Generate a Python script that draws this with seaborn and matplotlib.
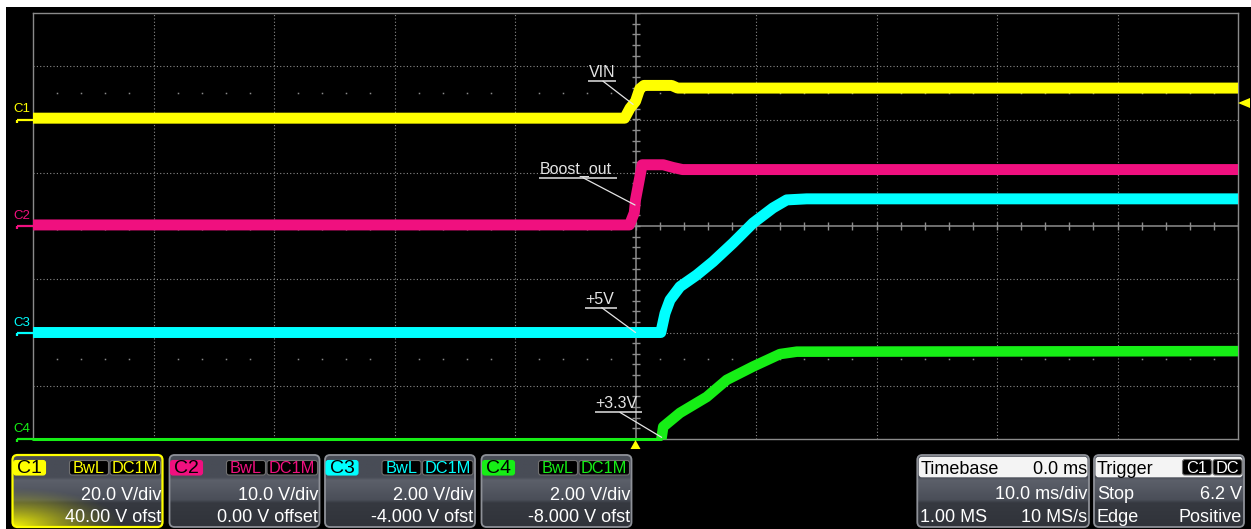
import numpy as np
import pandas as pd
import matplotlib
matplotlib.use("Agg")
import matplotlib.pyplot as plt
import seaborn as sns
from matplotlib.patches import FancyBboxPatch, Rectangle, Polygon
from matplotlib.collections import LineCollection
from matplotlib.transforms import blended_transform_factory

# ---------------- acquisition settings ----------------
channels = ["C1", "C2", "C3", "C4"]
colors = ["#FFFF00", "#F0107F", "#00FFFF", "#16EE16"]
volts_per_div = [20.0, 10.0, 2.0, 2.0]
offsets = [40.0, 0.0, -4.0, -8.0]
vdiv_labels = ["20.0 V/div", "10.0 V/div", "2.00 V/div", "2.00 V/div"]
offset_labels = ["40.00 V ofst", "0.00 V offset", "-4.000 V ofst", "-8.000 V ofst"]
ms_per_div = 10.0
trigger_time = 0.0
trigger_level = 6.2

# ---------------- captured waveforms (ms, V) ----------------
vin_t = [-50.0, -0.9, -0.45, 0.0, 0.35, 0.7, 3.0, 3.5, 50.0]
vin_v = [0.5, 0.5, 4.3, 6.8, 11.5, 12.8, 12.8, 11.8, 11.8]

boost_t = [-50.0, -0.5, -0.1, 0.0, 0.55, 2.3, 3.1, 3.9, 50.0]
boost_v = [0.2, 0.2, 2.5, 4.9, 11.5, 11.5, 11.0, 10.6, 10.6]

p5v_t = [-50.0, 2.1, 2.45, 2.86, 3.69, 5.08, 6.43, 8.09, 9.75, 11.41, 12.55, 14.2, 50.0]
p5v_v = [0.0, 0.0, 0.72, 1.22, 1.72, 2.16, 2.66, 3.36, 4.11, 4.68, 4.98, 5.02, 5.02]

p3v3_t = [-50.0, 2.15, 2.3, 3.69, 5.91, 7.57, 9.75, 11.99, 13.38, 50.0]
p3v3_v = [0.0, 0.0, 0.46, 0.98, 1.58, 2.22, 2.72, 3.19, 3.28, 3.3]

waves = [(vin_t, vin_v), (boost_t, boost_v), (p5v_t, p5v_v), (p3v3_t, p3v3_v)]

# ---------------- screen layout (pixels) ----------------
W, H = 1251, 529
GX0, GX1, GY0, GY1 = 33, 1238, 13, 439
PX_PER_DIV_X = (GX1 - GX0) / 10
PX_PER_DIV_Y = (GY1 - GY0) / 8

sns.set_theme(style="dark")
plt.rcParams["font.family"] = ["Liberation Sans", "DejaVu Sans"]

fig = plt.figure(figsize=(W / 100, H / 100), dpi=100, facecolor="black")
ax = fig.add_axes([GX0 / W, 1 - GY1 / H, (GX1 - GX0) / W, (GY1 - GY0) / H])
ax.set_facecolor("black")
ax.set_xlim(-5 * ms_per_div, 5 * ms_per_div)
ax.set_ylim(-4, 4)
ax.set_xticks([])
ax.set_yticks([])
ax.set_xlabel("")
ax.set_ylabel("")
for s in ax.spines.values():
    s.set_color("#8a8a8a")
    s.set_linewidth(1.0)
    s.set_visible(True)

def to_div(i, v):
    return (np.asarray(v, dtype=float) + offsets[i]) / volts_per_div[i]

# ---------------- graticule ----------------
grid_col = "#8a8a8a"
for k in range(-4, 5):
    if k != 0:
        ax.axvline(k * ms_per_div, color=grid_col, lw=0.8, ls=(0, (1, 2)), zorder=1)
for j in range(-3, 4):
    if j != 0:
        ax.axhline(j, color=grid_col, lw=0.8, ls=(0, (1, 2)), zorder=1)
dot_t = [t for t in np.arange(-48, 50, 2) if t % 10 != 0]
for yrow in (-2.5, 2.5):
    ax.plot(dot_t, [yrow] * len(dot_t), ls="none", marker="s", ms=1.1,
            mec="none", mfc=grid_col, zorder=1)
ax.axvline(0, color="#8e8e8e", lw=1.1, zorder=1)
ax.axhline(0, color="#8e8e8e", lw=1.1, zorder=1)
hx = 4 / PX_PER_DIV_X * ms_per_div
hy = 4 / PX_PER_DIV_Y
segs = [[(-hx, y), (hx, y)] for y in np.arange(-4, 4.01, 0.2)]
segs += [[(x, -hy), (x, hy)] for x in np.arange(-50, 50.1, 2.0)]
ax.add_collection(LineCollection(segs, colors="#8e8e8e", linewidths=1.0, zorder=1))

# ---------------- traces ----------------
frames = []
for i, (t, v) in enumerate(waves):
    frames.append(pd.DataFrame({"channel": channels[i], "t": t, "div": to_div(i, v)}))
df = pd.concat(frames, ignore_index=True)

for i, ch in enumerate(channels):
    d = df[df["channel"] == ch]
    if ch == "C4":
        idle = d[d["t"] <= 2.15]
        active = d[d["t"] >= 2.15]
        sns.lineplot(data=idle, x="t", y="div", color=colors[i], lw=2.2, ax=ax,
                     legend=False, zorder=3, clip_on=False, estimator=None)
        sns.lineplot(data=active, x="t", y="div", color=colors[i], lw=7.6, ax=ax,
                     legend=False, zorder=3, clip_on=False, estimator=None,
                     solid_joinstyle="round", solid_capstyle="butt")
    else:
        sns.lineplot(data=d, x="t", y="div", color=colors[i], lw=7.9, ax=ax,
                     legend=False, zorder=3, estimator=None,
                     solid_joinstyle="round", solid_capstyle="butt")
ax.set_xlabel("")
ax.set_ylabel("")

# ---------------- callouts ----------------
# text, channel, tip time (ms), underline (ms from, ms to, div), leader start (ms)
callouts = [
    ("VIN", 0, -0.2, (-3.94, -1.62, 2.72), -2.70),
    ("Boost_out", 1, -0.04, (-8.0, -1.54, 0.907), -4.36),
    ("+5V", 2, 0.0, (-4.19, -1.54, -1.534), -2.80),
    ("+3.3V", 3, 2.17, (-3.36, 0.51, -3.50), -1.29),
]
lab_col = "#e4e4e4"
for text, ci, t_tip, (u0, u1, uy), t_lead in callouts:
    tt, vv = waves[ci]
    y_tip = float(to_div(ci, np.interp(t_tip, tt, vv)))
    ax.plot([u0, u1], [uy, uy], color=lab_col, lw=1.1, zorder=5, solid_capstyle="butt")
    ax.plot([t_lead, t_tip], [uy, y_tip], color=lab_col, lw=0.9, zorder=5)
    ax.text(u0 + 0.05, uy + 4 / PX_PER_DIV_Y, text, color=lab_col, fontsize=11.5,
            ha="left", va="baseline", zorder=5)

# ---------------- channel ground markers and names ----------------
bt = blended_transform_factory(ax.transAxes, ax.transData)
fx = 1.0 / (GX1 - GX0)
for i, ch in enumerate(channels):
    g = offsets[i] / volts_per_div[i]
    ax.plot([-16 * fx, 0], [g, g], color=colors[i], lw=1.6, transform=bt,
            clip_on=False, zorder=4, solid_capstyle="butt")
    ax.plot([-16 * fx, -16 * fx], [g, g - 3 / PX_PER_DIV_Y], color=colors[i], lw=1.6,
            transform=bt, clip_on=False, zorder=4, solid_capstyle="butt")
    ax.text(-20 * fx, g + 4 / PX_PER_DIV_Y, ch, color=colors[i], fontsize=9.5,
            ha="left", va="bottom", transform=bt, clip_on=False)

# trigger markers
hx5 = 5 / PX_PER_DIV_X * ms_per_div
tri = Polygon([(trigger_time, -4 - 1 / PX_PER_DIV_Y),
               (trigger_time - hx5, -4 - 10 / PX_PER_DIV_Y),
               (trigger_time + hx5, -4 - 10 / PX_PER_DIV_Y)],
              closed=True, fc="#FFFF00", ec="none", clip_on=False, zorder=6)
ax.add_patch(tri)
ly = float(to_div(0, trigger_level))
tri2 = Polygon([(50.0, ly), (50.0 + 12 / PX_PER_DIV_X * ms_per_div, ly + 5 / PX_PER_DIV_Y),
                (50.0 + 12 / PX_PER_DIV_X * ms_per_div, ly - 5 / PX_PER_DIV_Y)],
               closed=True, fc="#FFFF00", ec="none", clip_on=False, zorder=6)
ax.add_patch(tri2)

# ---------------- status bar (pixel coordinates) ----------------
ui = fig.add_axes([0, 0, 1, 1])
ui.set_zorder(10)
ui.set_xlim(0, W)
ui.set_ylim(H, 0)
ui.axis("off")

ui.add_patch(Rectangle((0, 0), W, 7, fc="white", ec="none"))
ui.add_patch(Rectangle((0, 0), 6, H, fc="white", ec="none"))

BY0, BY1 = 455.0, 527.0
stops_y = [BY0, 477, 480, 500, 503, BY1]
stops_c = np.array([[72, 76, 86], [72, 76, 86], [92, 96, 106], [74, 78, 88],
                    [54, 57, 64], [48, 51, 58]]) / 255.0

def body_gradient(patch, x0, w):
    ys = np.linspace(BY0, BY1, 80)
    col = np.stack([np.interp(ys, stops_y, stops_c[:, k]) for k in range(3)], axis=1)
    img = np.repeat(col[:, None, :], 2, axis=1)
    im = ui.imshow(img, extent=[x0, x0 + w, BY1, BY0], aspect="auto",
                   interpolation="bilinear", zorder=1)
    im.set_clip_path(patch)

def panel(x0, w, edge="#8e9198", lw=1.3):
    p = FancyBboxPatch((x0, BY0), w, BY1 - BY0, boxstyle="round,pad=0,rounding_size=5",
                       fc="none", ec=edge, lw=lw, zorder=3)
    ui.add_patch(p)
    body_gradient(p, x0, w)
    return p

def tag(x0, x1, text, fc, tc, fs=11.8, ec="#707070", y0=460.5, y1=475.0):
    ui.add_patch(FancyBboxPatch((x0, y0), x1 - x0, y1 - y0,
                                boxstyle="round,pad=0,rounding_size=2.5",
                                fc=fc, ec=ec, lw=0.8, zorder=4))
    ui.text((x0 + x1) / 2, y1 - 1.8, text, color=tc, fontsize=fs, ha="center",
            va="baseline", zorder=5)

box_x = [12.5, 169.5, 325.0, 481.5]
BOX_W = 150.0
txt_kw = dict(color="white", fontsize=13, va="baseline", zorder=5)
for i, ch in enumerate(channels):
    x0 = box_x[i]
    edge = colors[i] if i == 0 else "#8e9198"
    p = panel(x0, BOX_W, edge=edge, lw=1.6 if i == 0 else 1.3)
    if i == 0:
        yy, xx = np.mgrid[0:1:60j, 0:1:120j]
        a = np.clip(1 - np.hypot(xx / 0.75, (1 - yy) / 0.55), 0, 1) ** 1.3
        glow = np.zeros((60, 120, 4))
        glow[..., 0] = 1.0
        glow[..., 1] = 1.0
        glow[..., 3] = a * 0.95
        im = ui.imshow(glow, extent=[x0, x0 + BOX_W, BY1, BY0], aspect="auto",
                       interpolation="bilinear", zorder=2)
        im.set_clip_path(p)
    tag(x0 + 1.0, x0 + 33.0, ch, colors[i], "black", fs=14, ec=colors[i])
    tag(x0 + 57.0, x0 + 96.0, "BwL", "black", colors[i])
    tag(x0 + 97.5, x0 + 148.0, "DC1M", "black", colors[i])
    ui.text(x0 + 148.5, 500.0, vdiv_labels[i], ha="right", **txt_kw)
    ui.text(x0 + 148.5, 522.0, offset_labels[i], ha="right", **txt_kw)

# timebase panel
tx0, tw = 917.3, 171.7
panel(tx0, tw)
ui.add_patch(FancyBboxPatch((tx0 + 1.5, 456.8), tw - 3, 20.5,
                            boxstyle="round,pad=0,rounding_size=3",
                            fc="#f4f4f4", ec="none", zorder=4))
ui.text(tx0 + 3, 473.5, "Timebase", ha="left", **{**txt_kw, "color": "black"})
ui.text(tx0 + tw - 2, 473.5, "0.0 ms", ha="right", **{**txt_kw, "color": "black"})
ui.text(tx0 + tw - 2, 499.0, f"{ms_per_div:.1f} ms/div", ha="right", **txt_kw)
ui.text(tx0 + 3, 522.0, "1.00 MS", ha="left", **txt_kw)
ui.text(tx0 + tw - 2, 522.0, "10 MS/s", ha="right", **txt_kw)

# trigger panel
rx0, rw = 1094.0, 150.0
panel(rx0, rw)
ui.add_patch(FancyBboxPatch((rx0 + 1.5, 456.8), rw - 3, 20.5,
                            boxstyle="round,pad=0,rounding_size=3",
                            fc="#f4f4f4", ec="none", zorder=4))
ui.text(rx0 + 3, 473.5, "Trigger", ha="left", **{**txt_kw, "color": "black"})
tag(rx0 + 88.5, rx0 + 117.5, "C1", "black", "white", y0=459.5, y1=475.0)
tag(rx0 + 119.0, rx0 + 148.0, "DC", "black", "white", y0=459.5, y1=475.0)
ui.text(rx0 + 3, 499.0, "Stop", ha="left", **txt_kw)
ui.text(rx0 + rw - 2, 499.0, f"{trigger_level:.1f} V", ha="right", **txt_kw)
ui.text(rx0 + 3, 522.0, "Edge", ha="left", **txt_kw)
ui.text(rx0 + rw - 2, 522.0, "Positive", ha="right", **txt_kw)

ui.set_xlim(0, W)
ui.set_ylim(H, 0)

fig.savefig("out.png", dpi=100, facecolor="black")
